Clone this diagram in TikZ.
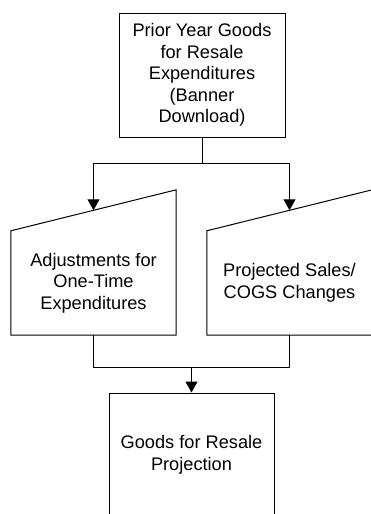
\documentclass[tikz,border=0pt]{standalone}
\usepackage{fontspec}
\setmainfont{Liberation Sans}
\usetikzlibrary{arrows.meta,calc}
\begin{document}
\begin{tikzpicture}[x=1pt,y=-1pt,
  lbl/.style={align=center,font=\fontsize{18.2}{21.5}\selectfont,inner sep=0pt},
  box/.style={lbl,draw,line width=1pt,minimum width=166pt,minimum height=124pt},
  manual/.style={lbl,minimum width=165pt,minimum height=104pt},
  link/.style={line width=1pt},
  arr/.style={link,-{Triangle[width=12pt,length=11pt]}}]
\useasboundingbox (0,0) rectangle (371,514);
\clip (0,0) rectangle (371,514);
% nodes
\node[box] (prior) at (202,75) {Prior Year Goods\\for Resale\\Expenditures\\(Banner\\Download)};
\node[manual] (adj) at (93.5,283) {Adjustments for\\One-Time\\Expenditures};
\node[manual] (proj) at (289.5,283) {Projected Sales/\\COGS Changes};
\node[box,minimum width=165pt] (goods) at (191.5,455) {Goods for Resale\\Projection};
% manual input outlines
\draw[link] (adj.south west) -- (adj.north west) -- ($(adj.north east)+(0,-41)$) -- (adj.south east) -- cycle;
\draw[link] (proj.south west) -- (proj.north west) -- ($(proj.north east)+(0,-41)$) -- (proj.south east) -- cycle;
% connectors
\draw[link] (prior.south) -- ++(0,26) coordinate (split);
\coordinate (adjin) at ($(adj.north)+(0,-20.5)$);
\coordinate (projin) at ($(proj.north)+(0,-20.5)$);
\draw[arr] (split) -| (adjin);
\draw[arr] (split) -| (projin);
\draw[link] (adj.south) -- ++(0,32) -| (proj.south);
\coordinate (merge) at ($(adj.south)!0.5!(proj.south)+(0,32)$);
\draw[arr] (merge) -- (goods.north);
\end{tikzpicture}
\end{document}
